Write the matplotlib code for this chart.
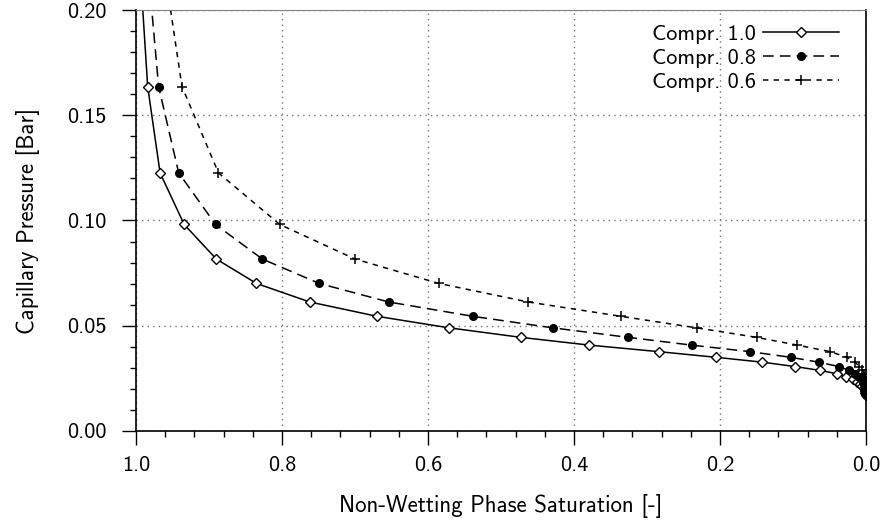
import matplotlib
matplotlib.use("Agg")
import matplotlib.pyplot as plt
from matplotlib.ticker import MultipleLocator, FormatStrFormatter

plt.rcParams['font.family'] = ['cmss10', 'DejaVu Sans']
plt.rcParams['axes.formatter.use_mathtext'] = True

# capillary pressure [bar], shared by all three curves
pc = [0.2450, 0.1636, 0.1226, 0.0981, 0.0817, 0.0701, 0.0613, 0.0545, 0.0490,
      0.0445, 0.0408, 0.0377, 0.0350, 0.0327, 0.0306, 0.0288, 0.0272, 0.0258,
      0.0245, 0.0233, 0.0223, 0.0213, 0.0204, 0.0196, 0.0188, 0.0181, 0.0175,
      0.0169]

# non-wetting phase saturation for each compressibility
sn_10 = [0.999, 0.984, 0.967, 0.934, 0.890, 0.835, 0.762, 0.670, 0.571, 0.473,
         0.379, 0.284, 0.205, 0.142, 0.097, 0.063, 0.040, 0.027, 0.018, 0.012,
         0.008, 0.005, 0.003, 0.002, 0.0012, 0.0007, 0.0003, 0.0]
sn_08 = [0.990, 0.969, 0.9415, 0.891, 0.827, 0.749, 0.654, 0.539, 0.429, 0.326,
         0.239, 0.159, 0.103, 0.065, 0.037, 0.023, 0.015, 0.009, 0.006, 0.004,
         0.0025, 0.0015, 0.001, 0.0006, 0.0004, 0.0002, 0.0001, 0.0]
sn_06 = [0.972, 0.937, 0.887, 0.803, 0.700, 0.585, 0.463, 0.336, 0.232, 0.150,
         0.094, 0.049, 0.026, 0.015, 0.009, 0.005, 0.003, 0.002, 0.0012, 0.0008,
         0.0005, 0.0003, 0.0002, 0.0001, 0.00005, 0.00002, 0.00001, 0.0]

labels = ['Compr. 1.0', 'Compr. 0.8', 'Compr. 0.6']

fig = plt.figure(figsize=(8.82, 5.25), dpi=100)
ax = fig.add_axes([136 / 882, 1 - 431 / 525, 730 / 882, 421 / 525])

ax.plot(sn_10, pc, color='black', lw=1.1, ls='-', marker='D', ms=5,
        mfc='white', mec='black', mew=1.0, label=labels[0])
ax.plot(sn_08, pc, color='black', lw=1.1, ls=(0, (7, 4)), marker='o', ms=5.5,
        mfc='black', mec='black', label=labels[1])
ax.plot(sn_06, pc, color='black', lw=1.1, ls=(0, (3.5, 3.5)), marker='+', ms=7,
        mew=1.1, label=labels[2])

ax.set_xlim(1.0, 0.0)
ax.set_ylim(0.0, 0.20)
ax.xaxis.set_major_locator(MultipleLocator(0.2))
ax.xaxis.set_minor_locator(MultipleLocator(0.04))
ax.yaxis.set_major_locator(MultipleLocator(0.05))
ax.yaxis.set_minor_locator(MultipleLocator(0.01))
ax.xaxis.set_major_formatter(FormatStrFormatter('%.1f'))
ax.yaxis.set_major_formatter(FormatStrFormatter('%.2f'))

ax.tick_params(which='major', direction='out', length=10, width=1, labelsize=16)
ax.tick_params(axis='x', which='major', pad=8)
ax.tick_params(axis='y', which='major', pad=11)
ax.tick_params(which='minor', direction='out', length=4, width=1)
ax.tick_params(top=False, right=False, which='both')

ax.grid(True, which='major', color='0.45', ls=(0, (1, 3)), lw=1)
for side in ['left', 'bottom', 'right']:
    ax.spines[side].set_color('black')
    ax.spines[side].set_linewidth(1.2)
ax.spines['top'].set_color('0.5')

ax.set_xlabel('Non-Wetting Phase Saturation [-]', fontsize=16.5, labelpad=14)
ax.set_ylabel('Capillary Pressure [Bar]', fontsize=16.5, labelpad=20)

ax.legend(loc='upper right', bbox_to_anchor=(1 - 3 / 730, 1 + 10 / 421),
          frameon=False, markerfirst=False, handlelength=3.4,
          fontsize=16, labelspacing=0.2, borderaxespad=0.7, handletextpad=0.3)

fig.savefig('out.png', dpi=100)
